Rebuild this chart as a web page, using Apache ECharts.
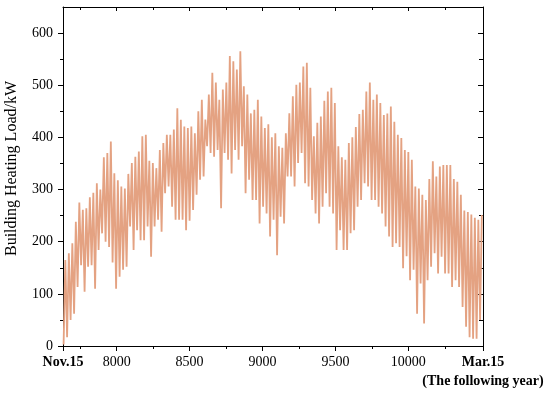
<!DOCTYPE html>
<html>
<head>
<meta charset="utf-8">
<script src="https://cdn.jsdelivr.net/npm/echarts@6/dist/echarts.min.js"></script>
<style>html,body{margin:0;padding:0;background:#fff;}#c{width:550px;height:398px;}</style>
</head>
<body>
<div id="c"></div>
<script>
// Hour-of-year range: Nov.15 -> Mar.15 (following year)
const startHour = 7632;
const endHour = 10512;
const xTickValues = [7632, 8000, 8500, 9000, 9500, 10000, 10512];
const xMinorTickValues = [7750, 8250, 8750, 9250, 9750, 10250];
const yTickValues = [0, 100, 200, 300, 400, 500, 600];
const yMinorTickValues = [50, 150, 250, 350, 450, 550];
const startLabel = 'Nov.15';
const endLabel = 'Mar.15';
const endNote = '(The following year)';
const yName = 'Building Heating Load/kW';

// Daily peak (max) and trough (min) heating load, kW, one per day (120 days)
const dailyPeak = [
  165,178,197,238,275,261,264,285,294,312,
  300,362,370,392,331,318,306,302,330,351,
  363,373,402,405,355,351,341,376,389,405,
  405,415,456,434,421,418,421,408,450,472,
  434,482,524,505,472,492,505,556,546,530,
  565,498,482,446,453,472,440,418,425,400,
  408,383,380,408,446,479,501,505,536,543,
  495,402,428,440,470,488,495,466,383,362,
  357,389,400,420,445,453,488,505,472,482,
  466,443,446,459,430,405,399,376,372,357,
  306,302,290,280,320,354,325,344,347,347,
  347,320,315,290,260,257,252,246,242,251
];
const dailyTrough = [
  3,17,50,62,113,155,104,152,155,110,
  184,216,200,190,160,110,133,146,152,229,
  184,222,203,203,229,171,229,242,219,293,
  306,267,242,242,242,222,240,261,290,319,
  325,383,370,363,376,264,370,357,331,376,
  357,383,293,319,280,280,235,267,254,210,
  242,174,248,235,325,325,306,351,370,312,
  306,280,254,235,267,293,267,254,184,222,
  184,184,216,222,267,280,312,306,280,280,
  267,254,229,210,190,197,190,149,172,126,
  146,62,120,43,126,152,178,139,171,139,
  139,113,126,113,75,37,17,14,14,50
];

const seriesData = [];
for (let d = 0; d < dailyPeak.length; d++) {
  seriesData.push([startHour + d * 24 + 4, dailyTrough[d]]);
  seriesData.push([startHour + d * 24 + 16, dailyPeak[d]]);
}

const FONT = "'Liberation Serif', 'Times New Roman', serif";
const black = '#000';
const gridRect = { left: 63, right: 67, top: 7, bottom: 52, containLabel: false, outerBoundsMode: 'none' };

function xAx(gridIndex, position, opts) {
  return Object.assign({
    type: 'value', gridIndex, position, min: startHour, max: endHour,
    splitLine: { show: false },
    axisLine: { show: true, onZero: false, lineStyle: { color: black, width: 1 } },
    axisLabel: { show: false },
    axisTick: { show: false }
  }, opts);
}
function yAx(gridIndex, position, opts) {
  return Object.assign({
    type: 'value', gridIndex, position, min: 0, max: 650,
    splitLine: { show: false },
    axisLine: { show: true, onZero: false, lineStyle: { color: black, width: 1 } },
    axisLabel: { show: false },
    axisTick: { show: false }
  }, opts);
}

const chart = echarts.init(document.getElementById('c'), null, { renderer: 'canvas' });
chart.setOption({
  animation: false,
  backgroundColor: '#fff',
  grid: [Object.assign({}, gridRect), Object.assign({}, gridRect)],
  xAxis: [
    xAx(0, 'bottom', {
      axisTick: { show: true, inside: false, length: 5, customValues: xTickValues, lineStyle: { color: black } },
      axisLabel: {
        show: true, customValues: xTickValues, margin: 9, hideOverlap: false,
        fontFamily: FONT, fontSize: 14, color: black,
        formatter: function (v) {
          if (v === startHour) return '{b|' + startLabel + '}';
          if (v === endHour) return '{b|' + endLabel + '}';
          return String(v);
        },
        rich: { b: { fontWeight: 'bold', fontFamily: FONT, fontSize: 14, color: black } }
      }
    }),
    xAx(0, 'top', {
      axisTick: { show: true, inside: true, length: 4, customValues: xTickValues.slice(1, -1), lineStyle: { color: black } }
    }),
    xAx(1, 'bottom', {
      axisLine: { show: false, onZero: false },
      axisTick: { show: true, inside: false, length: 3, customValues: xMinorTickValues, lineStyle: { color: black } },
      axisLabel: {
        show: true, customValues: [endHour], margin: 28, hideOverlap: false,
        fontFamily: FONT, fontSize: 14, fontWeight: 'bold', color: black,
        formatter: function () { return endNote; }
      }
    }),
    xAx(1, 'top', {
      axisLine: { show: false, onZero: false },
      axisTick: { show: true, inside: true, length: 3, customValues: xMinorTickValues, lineStyle: { color: black } }
    })
  ],
  yAxis: [
    yAx(0, 'left', {
      name: yName, nameLocation: 'middle', nameGap: 43,
      nameTextStyle: { fontFamily: FONT, fontSize: 16, color: black, padding: [0, 0, 0, 16] },
      axisTick: { show: true, inside: false, length: 5, customValues: yTickValues, lineStyle: { color: black } },
      axisLabel: { show: true, customValues: yTickValues, margin: 10, fontFamily: FONT, fontSize: 14, color: black }
    }),
    yAx(0, 'right', {
      axisTick: { show: true, inside: true, length: 5, customValues: yTickValues.slice(1), lineStyle: { color: black } }
    }),
    yAx(1, 'left', {
      axisLine: { show: false, onZero: false },
      axisTick: { show: true, inside: false, length: 3, customValues: yMinorTickValues, lineStyle: { color: black } }
    }),
    yAx(1, 'right', {
      axisLine: { show: false, onZero: false },
      axisTick: { show: true, inside: true, length: 4, customValues: yMinorTickValues, lineStyle: { color: black } }
    })
  ],
  series: [{
    type: 'line', xAxisIndex: 0, yAxisIndex: 0,
    data: seriesData, showSymbol: false, symbol: 'none',
    lineStyle: { color: '#E4A282', width: 1.8 },
    z: 1
  }]
});
</script>
</body>
</html>
